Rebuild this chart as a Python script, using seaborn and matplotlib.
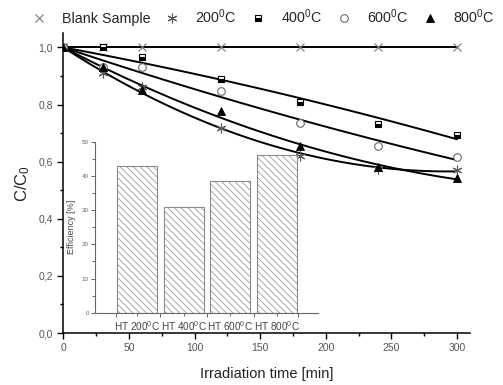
import numpy as np
import pandas as pd
import matplotlib
matplotlib.use("Agg")
import matplotlib.pyplot as plt
import seaborn as sns
from matplotlib.ticker import MultipleLocator, FuncFormatter

# --- data ---
time_min = [0, 30, 60, 120, 180, 240, 300]
blank = [1.0, 1.0, 1.0, 1.0, 1.0, 1.0, 1.0]
ht200 = [1.0, 0.91, 0.86, 0.718, 0.621, 0.576, 0.571]
ht400 = [1.0, 1.0, 0.968, 0.889, 0.81, 0.732, 0.695]
ht600 = [1.0, 0.93, 0.930, 0.848, 0.734, 0.656, 0.618]
ht800 = [1.0, 0.93, 0.851, 0.776, 0.656, 0.58, 0.543]

series_labels = ["Blank Sample", "200$^0$C", "400$^0$C", "600$^0$C", "800$^0$C"]
bar_labels = ["HT 200$^0$C", "HT 400$^0$C", "HT 600$^0$C", "HT 800$^0$C"]
efficiency = [42.9, 30.8, 38.4, 46.0]

sns.set_theme(style="ticks")
plt.rcParams["font.family"] = ["Liberation Sans", "DejaVu Sans"]
plt.rcParams["mathtext.default"] = "regular"
plt.rcParams["hatch.color"] = "#8a8a8a"
plt.rcParams["hatch.linewidth"] = 0.5

fig = plt.figure(figsize=(5.03, 3.85), dpi=100)
ax = fig.add_axes([0.126, 0.135, 0.8085, 0.779])

t = np.array(time_min, dtype=float)
t_fit = np.linspace(0, 300, 121)


def fit_curve(vals):
    # quadratic fit pinned at C/C0 = 1 for t = 0
    y = np.array(vals) - 1.0
    A = np.column_stack([t, t ** 2])
    coef, *_ = np.linalg.lstsq(A, y, rcond=None)
    return 1.0 + coef[0] * t_fit + coef[1] * t_fit ** 2


# fitted curves
for vals in [blank, ht200, ht400, ht600, ht800]:
    sns.lineplot(x=t_fit, y=fit_curve(vals), ax=ax, color="black", lw=1.4)

# markers
styles = [
    dict(marker="x", color="#7a7a7a", ms=5.5, mew=0.8, fillstyle="full"),
    dict(marker=(6, 2, 0), color="#5a5a5a", ms=7, mew=0.8),
    dict(marker="s", color="black", ms=4.5, mew=0.8, fillstyle="bottom",
         markerfacecoloralt="white"),
    dict(marker="o", color="#6a6a6a", ms=5.5, mew=0.8, mfc="white"),
    dict(marker="^", color="black", ms=5.5, mew=0.6),
]
handles = []
for vals, st, lab in zip([blank, ht200, ht400, ht600, ht800], styles, series_labels):
    h, = ax.plot(time_min, vals, ls="none", label=lab, zorder=3, **st)
    handles.append(h)

ax.set_xlim(0, 310)
ax.set_ylim(0, 1.05)
ax.xaxis.set_major_locator(MultipleLocator(50))
ax.xaxis.set_minor_locator(MultipleLocator(25))
ax.yaxis.set_major_locator(MultipleLocator(0.2))
ax.yaxis.set_minor_locator(MultipleLocator(0.1))
ax.yaxis.set_major_formatter(FuncFormatter(lambda v, p: f"{v:.1f}".replace(".", ",")))
ax.tick_params(which="major", direction="out", length=4, width=1, labelsize=7.5,
               labelcolor="#555555", color="black")
ax.tick_params(which="minor", direction="out", length=2.5, width=1, color="black")
for s in ["top", "right"]:
    ax.spines[s].set_visible(False)
for s in ["left", "bottom"]:
    ax.spines[s].set_linewidth(1.1)
    ax.spines[s].set_color("black")
ax.set_xlabel("Irradiation time [min]", fontsize=10.5, color="#222222", labelpad=10)
ax.set_ylabel("C/C$_0$", fontsize=12, color="#222222", labelpad=5)

fig.legend(handles=handles, loc="center", bbox_to_anchor=(0.523, 0.956), ncol=5,
           frameon=False, fontsize=10.3, handletextpad=1.1, columnspacing=1.0,
           handlelength=1.0, markerscale=1.0, borderaxespad=0, borderpad=0)

# inset bar chart
axin = fig.add_axes([0.1889, 0.1878, 0.4433, 0.444])
sns.barplot(x=bar_labels, y=efficiency, ax=axin, color="white", saturation=1,
            edgecolor="#8a8a8a", linewidth=0.8, hatch="\\\\\\\\\\", width=0.86)
axin.set_xlim(-0.9, 3.88)
axin.set_ylim(0, 50)
axin.patch.set_alpha(0)
axin.yaxis.set_major_locator(MultipleLocator(10))
axin.yaxis.set_minor_locator(MultipleLocator(5))
axin.set_xticks([0, 1, 2, 3])
axin.set_xticklabels(bar_labels)
axin.set_xticks([-0.45, 0.5, 1.5, 2.5, 3.45], minor=True)
axin.tick_params(axis="y", which="major", direction="out", length=3, width=0.7,
                 labelsize=4.5, labelcolor="#666666", color="#666666", pad=1.5)
axin.tick_params(axis="y", which="minor", direction="out", length=2, width=0.7,
                 color="#666666")
axin.tick_params(axis="x", which="major", direction="out", length=2, width=0.7,
                 labelsize=7.2, labelcolor="#444444", color="#666666", pad=3)
axin.tick_params(axis="x", which="minor", direction="out", length=3, width=0.7,
                 color="#666666")
for s in ["top", "right"]:
    axin.spines[s].set_visible(False)
for s in ["left", "bottom"]:
    axin.spines[s].set_linewidth(0.8)
    axin.spines[s].set_color("#666666")
axin.set_xlabel("")
axin.set_ylabel("Efficiency [%]", fontsize=6.5, color="#444444", labelpad=4)

fig.savefig("out.png", dpi=100)
